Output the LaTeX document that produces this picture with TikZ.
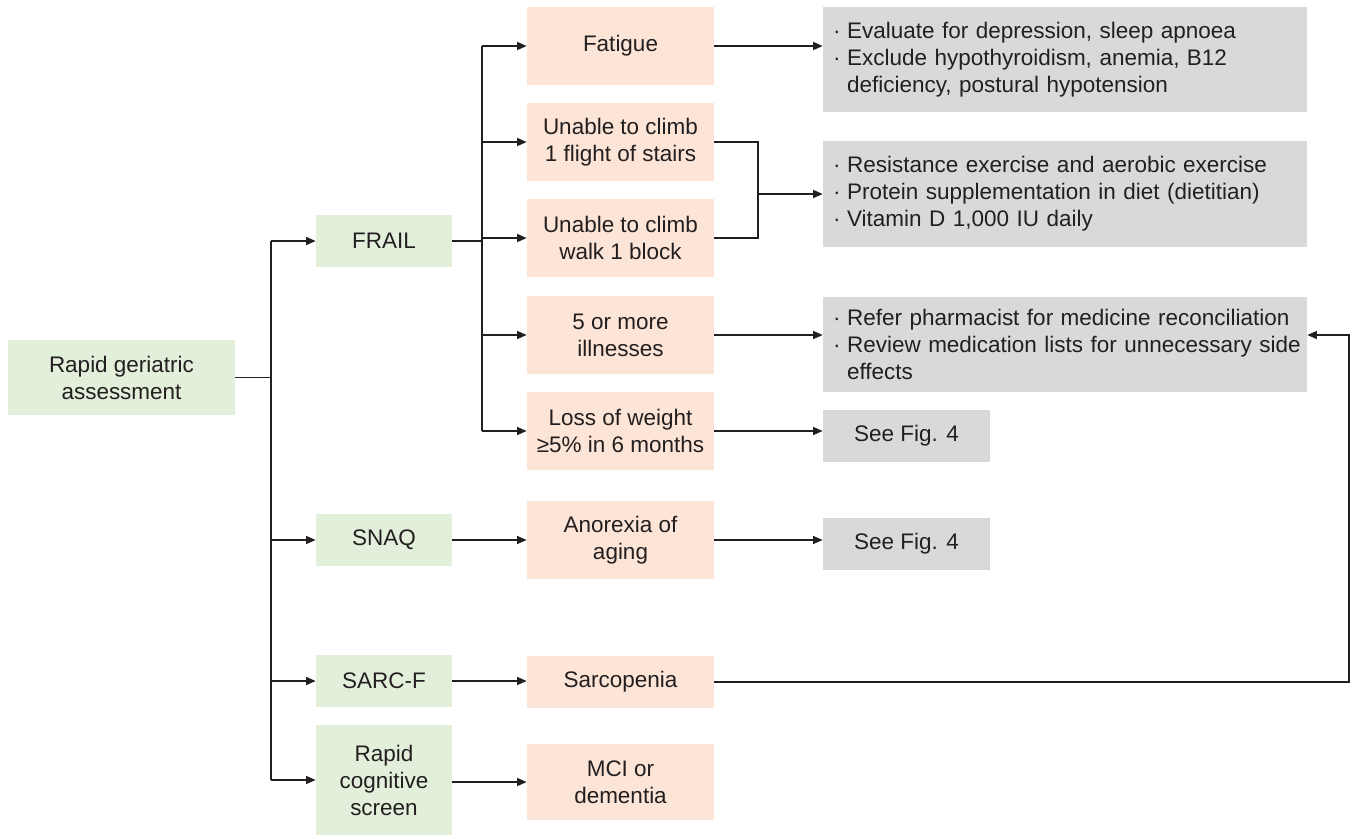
\documentclass[tikz,border=0pt]{standalone}
\usepackage{fontspec}
\setmainfont{Liberation Sans}
\usetikzlibrary{arrows.meta}
\definecolor{screengreen}{HTML}{E2EFDA}
\definecolor{findorange}{HTML}{FCE4D6}
\definecolor{actiongray}{HTML}{D9D9D9}
\definecolor{inkgray}{HTML}{231F20}
\newcommand{\dotitem}{\makebox[0.28cm][l]{·}}
\newcommand{\dotpad}{\hspace*{0.28cm}}
\tikzset{
	every node/.style={font=\fontsize{12.8}{15.4}\selectfont, text=inkgray, inner sep=0pt},
	screenbox/.style={fill=screengreen, minimum width=2.72cm, minimum height=1.04cm, align=center},
	findbox/.style={fill=findorange, minimum width=3.74cm, minimum height=1.56cm, align=center},
	actionbox/.style={fill=actiongray, minimum width=9.68cm, text width=9.28cm, inner xsep=0.2cm, align=left},
	seebox/.style={fill=actiongray, minimum width=3.34cm, minimum height=1.04cm},
	plain/.style={draw=inkgray, line width=0.7pt},
	link/.style={plain, -{Triangle[length=5.5pt,width=4.6pt]}}
}

\begin{document}
\begin{tikzpicture}[x=0.02cm, y=-0.02cm]
		%%%%% START %%%%%
		\useasboundingbox (0, 0) rectangle (1354, 836);
		
		\node[screenbox, minimum width=4.54cm, minimum height=1.5cm] (rga) at (121.5, 377.5) {Rapid geriatric\\assessment};
		
		\node[screenbox] (frail) at (384, 241) {FRAIL};
		\node[screenbox] (snaq) at (384, 540) {SNAQ};
		\node[screenbox] (sarcf) at (384, 681) {SARC-F};
		\node[screenbox, minimum height=2.2cm] (rcs) at (384, 780) {Rapid\\cognitive\\screen};
		
		\node[findbox] (fatigue) at (620.5, 46) {Fatigue};
		\node[findbox] (stairs) at (620.5, 142) {Unable to climb\\1 flight of stairs};
		\node[findbox] (block) at (620.5, 238) {Unable to climb\\walk 1 block};
		\node[findbox] (illness) at (620.5, 335) {5 or more\\illnesses};
		\node[findbox] (weight) at (620.5, 431) {Loss of weight\\≥5\% in 6 months};
		\node[findbox] (anorexia) at (620.5, 540) {Anorexia of\\aging};
		\node[findbox, minimum height=1.04cm] (sarco) at (620.5, 682) {Sarcopenia};
		\node[findbox, minimum height=1.52cm] (mci) at (620.5, 782) {MCI or\\dementia};
		
		\node[actionbox, minimum height=2.1cm] (tired) at (1065, 59.5) {\dotitem Evaluate for depression, sleep apnoea\\\dotitem Exclude hypothyroidism, anemia, B12\\\dotpad deficiency, postural hypotension};
		\node[actionbox, minimum height=2.12cm] (muscle) at (1065, 194) {\dotitem Resistance exercise and aerobic exercise\\\dotitem \mbox{Protein supplementation in diet (dietitian)}\\\dotitem Vitamin D 1,000 IU daily};
		\node[actionbox, minimum height=1.9cm] (meds) at (1065, 344.5) {\dotitem \mbox{Refer pharmacist for medicine reconciliation}\\\dotitem \mbox{Review medication lists for unnecessary side}\\\dotpad effects};
		\node[seebox] (figA) at (906.5, 436) {See Fig. 4};
		\node[seebox] (figB) at (906.5, 544) {See Fig. 4};
		
		\coordinate (spine) at (271, 0);
		\coordinate (frailspine) at (482, 0);
		\coordinate (join) at (758, 0);
		\coordinate (loop) at (1349, 0);
		
		\draw[plain] (rga.east) -- (rga.east -| spine);
		\draw[plain] (frail -| spine) -- (rcs -| spine);
		\draw[link] (frail -| spine) -- (frail.west);
		\draw[link] (snaq -| spine) -- (snaq.west);
		\draw[link] (sarcf -| spine) -- (sarcf.west);
		\draw[link] (rcs -| spine) -- (rcs.west);
		
		\draw[plain] (frail.east) -- (frail.east -| frailspine);
		\draw[plain] (fatigue -| frailspine) -- (weight -| frailspine);
		\draw[link] (fatigue -| frailspine) -- (fatigue.west);
		\draw[link] (stairs -| frailspine) -- (stairs.west);
		\draw[link] (block -| frailspine) -- (block.west);
		\draw[link] (illness -| frailspine) -- (illness.west);
		\draw[link] (weight -| frailspine) -- (weight.west);
		
		\draw[link] (snaq.east) -- (snaq.east -| anorexia.west);
		\draw[link] (sarcf.east) -- (sarcf.east -| sarco.west);
		\draw[link] (rcs.east |- mci) -- (mci.west);
		
		\draw[link] (fatigue.east) -- (fatigue.east -| tired.west);
		\draw[plain] (stairs.east) -- (stairs.east -| join) -- (block.east -| join) -- (block.east);
		\draw[link] (join |- muscle.west) -- (muscle.west);
		\draw[link] (illness.east) -- (illness.east -| meds.west);
		\draw[link] (weight.east) -- (weight.east -| figA.west);
		\draw[link] (anorexia.east) -- (anorexia.east -| figB.west);
		\draw[link] (sarco.east) -- (sarco.east -| loop) -- (loop |- illness.east) -- (illness.east -| meds.east);
		
		%%%%% END %%%%%
\end{tikzpicture}
\end{document}
